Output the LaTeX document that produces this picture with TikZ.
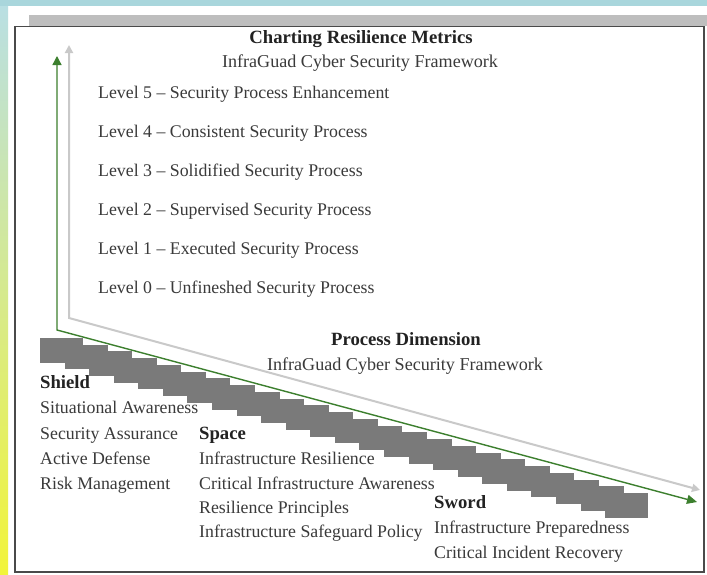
\documentclass[tikz,border=0pt]{standalone}
\usepackage{fontspec}
\setmainfont{Liberation Serif}
\usetikzlibrary{arrows.meta}

\definecolor{bandteal}{HTML}{A9D6DC}
\definecolor{stripteal}{HTML}{B9DFE3}
\definecolor{stripyellow}{HTML}{F2F43A}
\definecolor{shadowgray}{HTML}{BEBEBE}
\definecolor{framegray}{HTML}{4A4A4A}
\definecolor{stepgray}{HTML}{7A7A7A}
\definecolor{axisgreen}{HTML}{3C7F2E}
\definecolor{axislight}{HTML}{C9C9C9}
\definecolor{textgray}{HTML}{3A3A3A}
\definecolor{headgray}{HTML}{222222}

\begin{document}
\begin{tikzpicture}[x=1pt,y=-1pt,
  lbl/.style={anchor=base west, inner sep=0pt, text=textgray,
    font=\fontsize{17.8}{20}\selectfont},
  sub/.style={anchor=base, inner sep=0pt, text=textgray,
    font=\fontsize{18.1}{20}\selectfont},
  head/.style={anchor=base, inner sep=0pt, text=headgray,
    font=\fontsize{18.7}{21}\selectfont\bfseries},
  headw/.style={head, anchor=base west},
  greenaxis/.style={draw=axisgreen, line width=1.4pt,
    {Triangle[width=9pt,length=9pt]}-{Triangle[width=9pt,length=10pt]}},
  lightaxis/.style={draw=axislight, line width=2pt,
    {Triangle[width=8pt,length=8pt]}-{Triangle[width=8pt,length=8pt]}},
  stair/.style={fill=stepgray}
]
\useasboundingbox (0,0) rectangle (707,574);

% page background
\fill[white] (0,0) rectangle (707,574);
\fill[bandteal] (0,0) rectangle (707,6);
\shade[top color=stripteal, middle color=white!85!stripyellow, bottom color=stripyellow]
  (0,6) rectangle (8,574);

% sheet with its shadow band and frame
\fill[shadowgray] (29,15) rectangle (707,26);
\draw[framegray, line width=1.8pt] (15,26.5) rectangle (704,572);

% staircase
\foreach \i in {0,...,23}
  \fill[stair] ({40+24.57*\i},{338+6.74*\i}) rectangle ({83+24.57*\i},{362.5+6.74*\i});

% axes
\coordinate (ltop) at (69,45);
\coordinate (lcorner) at (69,318);
\coordinate (lend) at (700,490);
\coordinate (gtop) at (57,56);
\coordinate (gcorner) at (57,330);
\coordinate (gend) at (697,502);
\draw[lightaxis] (ltop) -- (lcorner) -- (lend);
\draw[greenaxis] (gtop) -- (gcorner) -- (gend);

% maturity levels
\node[head] (title) at (361,43) {Charting Resilience Metrics};
\node[sub] (titlesub) at (360,67) {InfraGuad Cyber Security Framework};
\node[lbl] (lv5) at (98,98)  {Level 5 -- Security Process Enhancement};
\node[lbl] (lv4) at (98,137) {Level 4 -- Consistent Security Process};
\node[lbl] (lv3) at (98,176) {Level 3 -- Solidified Security Process};
\node[lbl] (lv2) at (98,215) {Level 2 -- Supervised Security Process};
\node[lbl] (lv1) at (98,254) {Level 1 -- Executed Security Process};
\node[lbl] (lv0) at (98,293) {Level 0 -- Unfineshed Security Process};

% process dimension
\node[head] (proc) at (406,345) {Process Dimension};
\node[sub] (procsub) at (405,370) {InfraGuad Cyber Security Framework};

% Shield
\node[headw] (shield) at (40,388) {Shield};
\node[lbl] (sh1) at (40,413) {Situational Awareness};
\node[lbl] (sh2) at (40,439) {Security Assurance};
\node[lbl] (sh3) at (40,464) {Active Defense};
\node[lbl] (sh4) at (40,489) {Risk Management};

% Space
\node[headw] (space) at (199,439) {Space};
\node[lbl] (sp1) at (199,464) {Infrastructure Resilience};
\node[lbl] (sp2) at (199,489) {Critical Infrastructure Awareness};
\node[lbl] (sp3) at (199,513) {Resilience Principles};
\node[lbl] (sp4) at (199,537) {Infrastructure Safeguard Policy};

% Sword
\node[headw] (sword) at (434,508) {Sword};
\node[lbl] (sw1) at (434,533) {Infrastructure Preparedness};
\node[lbl] (sw2) at (434,558) {Critical Incident Recovery};
\end{tikzpicture}
\end{document}
